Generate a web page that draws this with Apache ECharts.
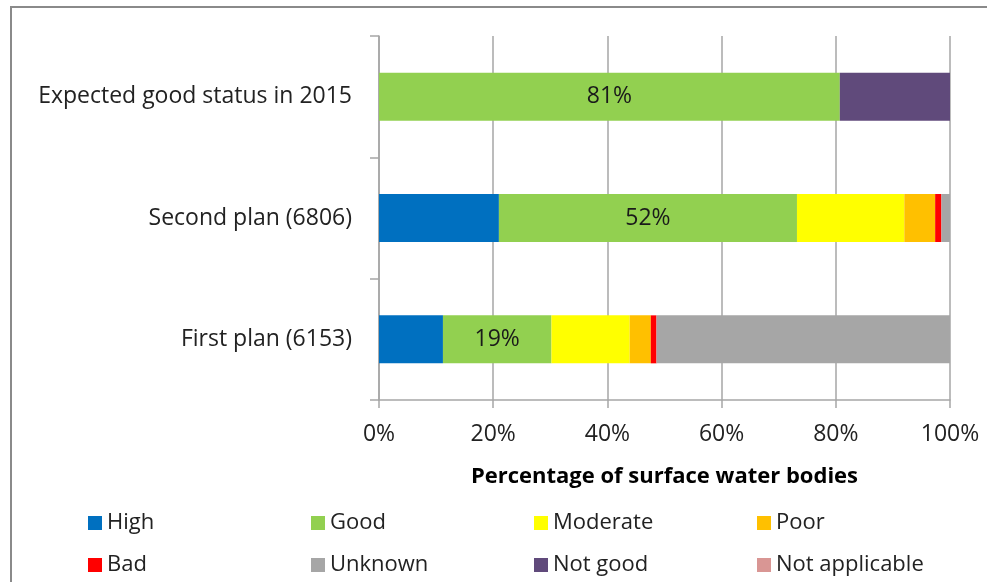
<!DOCTYPE html>
<html><head><meta charset="utf-8">
<script src="https://cdn.jsdelivr.net/npm/echarts@6/dist/echarts.min.js"></script>
<style>html,body{margin:0;padding:0;background:#fff}#c{width:987px;height:582px}</style>
</head><body><div id="c"></div>
<script>
var categories = ['First plan (6153)', 'Second plan (6806)', 'Expected good status in 2015'];
var seriesNames = ['High', 'Good', 'Moderate', 'Poor', 'Bad', 'Unknown', 'Not good', 'Not applicable'];
var high = [11.2, 21.0, 0];
var good = [19.0, 52.2, 80.7];
var moderate = [13.7, 18.8, 0];
var poor = [3.7, 5.4, 0];
var bad = [1.0, 1.1, 0];
var unknown = [51.4, 1.5, 0];
var notGood = [0, 0, 19.3];
var notApplicable = [0, 0, 0];
var xTicks = [0, 20, 40, 60, 80, 100];
var colors = ['#0070c0', '#92d050', '#ffff00', '#ffc000', '#ff0000', '#a6a6a6', '#604a7b', '#d99694'];

var FONT = 'Open Sans';
var values = [high, good, moderate, poor, bad, unknown, notGood, notApplicable];
var series = seriesNames.map(function (n, i) {
  return {
    name: n, type: 'bar', stack: 'all', barWidth: 48,
    data: values[i],
    itemStyle: { color: colors[i] },
    label: n === 'Good' ? {
      show: true, position: 'inside', color: '#1a1a1a', fontSize: 23, fontFamily: FONT,
      formatter: function (p) { return Math.round(p.value) + '%'; }
    } : { show: false },
    emphasis: { disabled: true }
  };
});

var legends = seriesNames.map(function (n, i) {
  var col = i % 4, row = Math.floor(i / 4);
  return {
    left: 83 + 223 * col, top: 507 + 42 * row,
    itemWidth: 14, itemHeight: 14, itemGap: 0, icon: 'rect', selectedMode: false,
    data: [n],
    textStyle: { fontSize: 22, fontFamily: FONT, color: '#222', padding: [0, 0, 0, 0] }
  };
});

var chart = echarts.init(document.getElementById('c'), null, { renderer: 'canvas' });
chart.setOption({
  animation: false,
  color: colors,
  graphic: [{
    type: 'rect', shape: { x: 11, y: 7, width: 1000, height: 600 },
    style: { fill: 'none', stroke: '#8a8a8a', lineWidth: 2 }, silent: true, z: -1
  }],
  grid: { left: 379, right: 37, top: 36, bottom: 182, containLabel: false },
  legend: legends,
  xAxis: {
    type: 'value', min: 0, max: 100, interval: 20,
    name: 'Percentage of surface water bodies', nameLocation: 'middle', nameGap: 66,
    nameTextStyle: { fontSize: 22, fontWeight: 'bold', fontFamily: FONT, color: '#000' },
    axisLine: { show: true, lineStyle: { color: '#a6a6a6', width: 1.5 } },
    axisTick: { show: true, length: 8, lineStyle: { color: '#a6a6a6', width: 1.5 } },
    axisLabel: { fontSize: 23, fontFamily: FONT, color: '#222', margin: 23,
      formatter: function (v) { return xTicks.indexOf(v) >= 0 ? v + '%' : ''; } },
    splitLine: { show: true, lineStyle: { color: '#a6a6a6', width: 1.5 } }
  },
  yAxis: {
    type: 'category', data: categories,
    axisLine: { show: true, lineStyle: { color: '#a6a6a6', width: 1.5 } },
    axisTick: { show: true, length: 9, lineStyle: { color: '#a6a6a6', width: 1.5 } },
    axisLabel: { fontSize: 23, fontFamily: FONT, color: '#222', margin: 27 },
    splitLine: { show: false }
  },
  series: series
});
</script></body></html>
